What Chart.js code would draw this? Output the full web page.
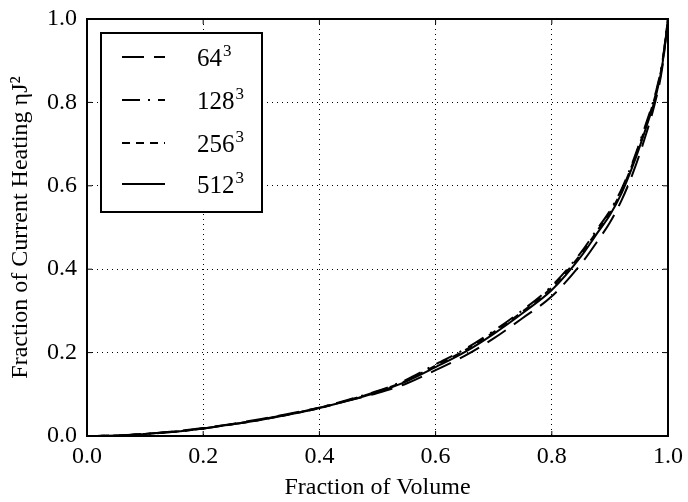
<!DOCTYPE html>
<html>
<head>
<meta charset="utf-8">
<script src="https://cdn.jsdelivr.net/npm/chart.js@4.4.0/dist/chart.umd.min.js"></script>
<style>
  html, body { margin: 0; padding: 0; background: #fff; }
  #wrap { width: 688px; height: 502px; }
</style>
</head>
<body>
<div id="wrap"><canvas id="heat"></canvas></div>
<script>
// fraction of volume (x) and cumulative fraction of current heating (y)
var volumeFraction = [0, 0.05, 0.1, 0.15, 0.2, 0.25, 0.3, 0.35, 0.4, 0.45, 0.5, 0.55, 0.6, 0.65, 0.7, 0.75, 0.8, 0.85, 0.88, 0.9, 0.92, 0.94, 0.96, 0.98, 0.99, 1.0];
var heat64  = [0, 0.001, 0.005, 0.011, 0.019, 0.029, 0.041, 0.054, 0.068, 0.085, 0.103, 0.126, 0.158, 0.192, 0.234, 0.283, 0.335, 0.412, 0.47, 0.512, 0.565, 0.632, 0.714, 0.812, 0.882, 1.0];
var heat128 = [0, 0.001, 0.005, 0.010, 0.018, 0.028, 0.040, 0.053, 0.068, 0.087, 0.108, 0.135, 0.172, 0.208, 0.252, 0.302, 0.36, 0.44, 0.5, 0.54, 0.592, 0.66, 0.74, 0.83, 0.895, 1.0];
var heat256 = [0, 0.001, 0.005, 0.010, 0.018, 0.028, 0.039, 0.052, 0.067, 0.086, 0.107, 0.133, 0.169, 0.205, 0.249, 0.299, 0.356, 0.436, 0.496, 0.536, 0.588, 0.656, 0.736, 0.826, 0.892, 1.0];
var heat512 = [0, 0.001, 0.005, 0.010, 0.018, 0.028, 0.039, 0.052, 0.067, 0.085, 0.105, 0.131, 0.165, 0.201, 0.245, 0.295, 0.35, 0.43, 0.49, 0.53, 0.582, 0.65, 0.73, 0.82, 0.888, 1.0];
var seriesLabels = ['64', '128', '256', '512'];
var tickValues = [0, 0.2, 0.4, 0.6, 0.8, 1.0];

var serif = "'Liberation Serif', 'DejaVu Serif', serif";

function pts(ys) {
    return volumeFraction.map(function (x, i) { return {x: x, y: ys[i]}; });
}

var dashes = [[22, 10], [18, 8, 2, 8], [8, 6], []];
var allSeries = [heat64, heat128, heat256, heat512];

var datasets = allSeries.map(function (s, i) {
    return {
        label: seriesLabels[i] + '\u00b3',
        data: pts(s),
        borderColor: '#000',
        borderWidth: 2,
        borderDash: dashes[i],
        pointRadius: 0,
        fill: false,
        cubicInterpolationMode: 'monotone'
    };
});

// frame, inside ticks and boxed legend like matplotlib
var framePlugin = {
    id: 'frame',
    afterDraw: function (chart) {
        var ctx = chart.ctx;
        var a = chart.chartArea;
        var xs = chart.scales.x, ys = chart.scales.y;
        ctx.save();
        ctx.strokeStyle = '#000';
        ctx.lineWidth = 1;
        ctx.beginPath();
        tickValues.forEach(function (v) {
            var px = xs.getPixelForValue(v);
            ctx.moveTo(px, a.bottom); ctx.lineTo(px, a.bottom - 5);
            ctx.moveTo(px, a.top); ctx.lineTo(px, a.top + 5);
            var py = ys.getPixelForValue(v);
            ctx.moveTo(a.left, py); ctx.lineTo(a.left + 5, py);
            ctx.moveTo(a.right, py); ctx.lineTo(a.right - 5, py);
        });
        ctx.stroke();
        ctx.lineWidth = 2;
        ctx.strokeRect(a.left, a.top, a.right - a.left, a.bottom - a.top);

        // legend box
        var bx = a.left + 14, by = a.top + 14, bw = 161, bh = 179;
        ctx.fillStyle = '#fff';
        ctx.fillRect(bx, by, bw, bh);
        ctx.strokeRect(bx, by, bw, bh);
        var rows = [24, 67, 110, 151];
        ctx.textBaseline = 'alphabetic';
        ctx.fillStyle = '#000';
        chart.data.datasets.forEach(function (ds, i) {
            var y = by + rows[i];
            ctx.setLineDash(ds.borderDash);
            ctx.beginPath();
            ctx.moveTo(bx + 21, y);
            ctx.lineTo(bx + 64, y);
            ctx.stroke();
            ctx.setLineDash([]);
            ctx.font = '25px ' + serif;
            var base = seriesLabels[i];
            ctx.fillText(base, bx + 96, y + 9);
            var w = ctx.measureText(base).width;
            ctx.font = '17px ' + serif;
            ctx.fillText('3', bx + 97 + w, y - 1);
        });
        ctx.restore();
    }
};

var ctx = document.getElementById('heat').getContext('2d');
var myChart = new Chart(ctx, {
    type: 'line',
    data: { datasets: datasets },
    options: {
        responsive: true,
        maintainAspectRatio: false,
        animation: false,
        layout: { padding: { top: 19, right: 20, left: 4, bottom: 0 } },
        plugins: {
            legend: { display: false },
            tooltip: { enabled: false }
        },
        scales: {
            x: {
                type: 'linear',
                min: 0,
                max: 1,
                afterBuildTicks: function (scale) {
                    scale.ticks = tickValues.map(function (v) { return {value: v}; });
                },
                afterFit: function (scale) {
                    scale.height = 66;
                    scale.paddingLeft = 0;
                    scale.paddingRight = 0;
                },
                ticks: {
                    color: '#000',
                    padding: 6,
                    maxRotation: 0,
                    font: { family: serif, size: 24 },
                    callback: function (v) { return v.toFixed(1); }
                },
                grid: { color: '#000', lineWidth: 1, drawTicks: false },
                border: { display: false, dash: [1, 4] },
                title: {
                    display: true,
                    text: 'Fraction of Volume',
                    color: '#000',
                    font: { family: serif, size: 24 },
                    padding: { top: 3, bottom: 0 }
                }
            },
            y: {
                type: 'linear',
                min: 0,
                max: 1,
                afterBuildTicks: function (scale) {
                    scale.ticks = tickValues.map(function (v) { return {value: v}; });
                },
                afterFit: function (scale) {
                    scale.width = 83;
                    scale.paddingTop = 0;
                    scale.paddingBottom = 0;
                },
                ticks: {
                    color: '#000',
                    padding: 10,
                    font: { family: serif, size: 24 },
                    callback: function (v) { return v.toFixed(1); }
                },
                grid: { color: '#000', lineWidth: 1, drawTicks: false },
                border: { display: false, dash: [1, 4] },
                title: {
                    display: true,
                    text: 'Fraction of Current Heating \u03b7J\u00b2',
                    color: '#000',
                    font: { family: serif, size: 24 },
                    padding: { top: 2, bottom: 4 }
                }
            }
        }
    },
    plugins: [framePlugin]
});
</script>
</body>
</html>
